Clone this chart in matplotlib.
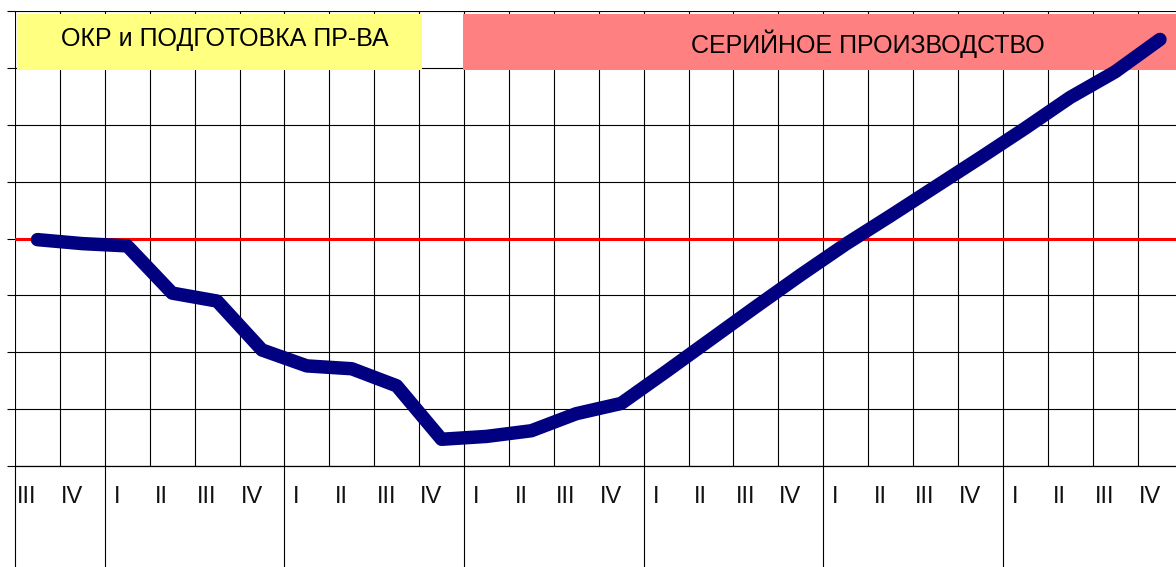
import numpy as np
import matplotlib
matplotlib.use("Agg")
import matplotlib.pyplot as plt
from matplotlib.patches import Rectangle

plt.rcParams["font.family"] = ["Liberation Sans", "DejaVu Sans"]

# quarters on the x axis (two of the first year, then six full years)
quarters = ["III", "IV"] + ["I", "II", "III", "IV"] * 6
year_starts = [0, 2, 6, 10, 14, 18, 22]

# curve, one value per quarter
values = [3.98, 3.91, 3.87, 3.04, 2.90, 2.04, 1.76, 1.71, 1.41, 0.47,
          0.52, 0.62, 0.92, 1.10, 1.66, 2.23, 2.80, 3.36, 3.90, 4.40,
          4.91, 5.42, 5.94, 6.48, 6.93, 7.50]
threshold = 4.0

# phases: label, span in quarters
phase_names = ["ОКР и ПОДГОТОВКА ПР-ВА", "СЕРИЙНОЕ ПРОИЗВОДСТВО"]
phase_start = [0.04, 9.97]
phase_end = [9.06, 26.0]
phase_colors = ["#FFFF80", "#FF8080"]
phase_text_x = [4.68, 19.0]
phase_text_y = [7.50, 7.42]

W, H = 1176, 567
cell = 44.9
fig = plt.figure(figsize=(W / 100, H / 100), dpi=100)
ax = fig.add_axes([15 / W, (H - 466) / H, (W - 15) / W, (466 - 11) / H])
ax.set_xlim(0, (W - 15) / cell)
ax.set_ylim(0, 8)
for s in ax.spines.values():
    s.set_visible(False)

# grid
ax.set_yticks(range(9))
ax.set_xticks(np.arange(len(quarters)))
ax.grid(True, color="black", lw=0.8, zorder=0)
ax.tick_params(axis="y", direction="out", length=5.8, width=0.8,
               color="black", labelleft=False)
ax.tick_params(axis="x", length=0, labelbottom=False)
ax.axhline(0, color="black", lw=0.9, clip_on=False, zorder=1)

# year separators below the axis
ax.vlines(year_starts, -101 / 56.9, 0, color="black", lw=0.8, clip_on=False)

# quarter labels
for i, q in enumerate(quarters):
    ax.text(i + 0.27, -0.65, q, ha="center", va="baseline", fontsize=17,
            color="#111111", clip_on=False)

# phase boxes
for name, a, b, c, tx, ty in zip(phase_names, phase_start, phase_end,
                                 phase_colors, phase_text_x, phase_text_y):
    ax.add_patch(Rectangle((a, 6.97), b - a, 0.97,
                           facecolor=c, edgecolor="none", zorder=2))
    ax.text(tx, ty, name, ha="center", va="center", fontsize=18,
            color="black", zorder=3)

ax.axhline(threshold, color="red", lw=2.2, zorder=3)

x = np.arange(len(values)) + 0.5
ax.plot(x, values, color="#000080", lw=9.7, solid_capstyle="round",
        solid_joinstyle="round", zorder=4, clip_on=False)

fig.savefig("out.png", dpi=100)
